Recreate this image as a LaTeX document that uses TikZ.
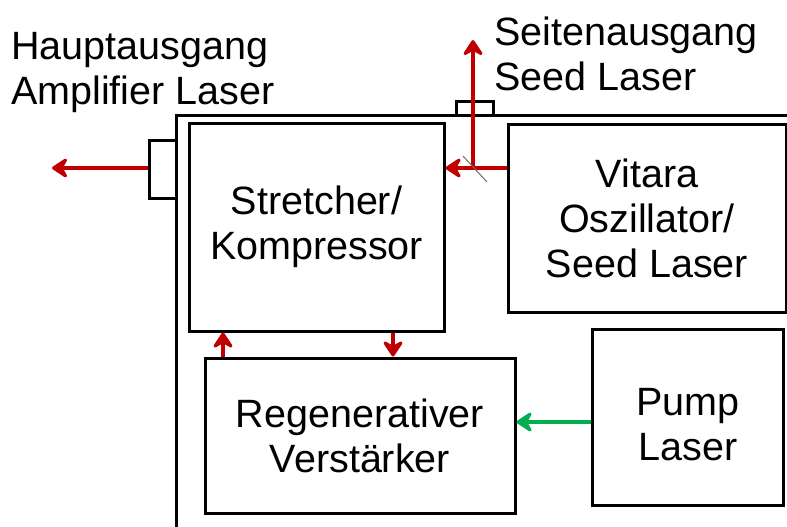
\documentclass[tikz,border=0pt]{standalone}
\usepackage{fontspec}
\setmainfont{Liberation Sans}
\usetikzlibrary{positioning, arrows.meta, calc}
\definecolor{beamred}{HTML}{C00000}
\definecolor{pumpgreen}{HTML}{00B050}
\definecolor{mirrorgray}{HTML}{707070}

\tikzset{
  blockbox/.style={draw=black, line width=3pt, align=center,
                   font=\fontsize{39.5}{45}\selectfont, inner sep=0pt},
  portbox/.style={draw=black, line width=3pt, inner sep=0pt},
  beam/.style={-{Stealth[length=19pt, width=25pt, inset=7pt, round]},
               draw=beamred, line width=3.5pt},
  pumpbeam/.style={-{Stealth[length=19pt, width=25pt, inset=7pt, round]},
               draw=pumpgreen, line width=3.5pt},
  lbl/.style={align=left, font=\fontsize{39.5}{45}\selectfont, inner sep=0pt}
}

\begin{document}
\begin{tikzpicture}[x=1pt, y=-1pt]
      \useasboundingbox (0,0) rectangle (787,527);
      \clip (0,0) rectangle (787,527);
      % housing
      \draw[line width=3pt] (176,540) -- (176,115) -- (800,115);
      \node[portbox, minimum width=27pt, minimum height=58pt] (mainport) at (162.5,169) {};
      \node[portbox, minimum width=37pt, minimum height=14pt] (sideport) at (474.5,108) {};
      % blocks
      \node[blockbox, minimum width=255pt, minimum height=208pt] (stretcher) at (316.5,227)
            {Stretcher/\\Kompressor};
      \node[blockbox, minimum width=278pt, minimum height=188pt] (vitara) at (647,218)
            {Vitara\\Oszillator/\\Seed Laser};
      \node[blockbox, minimum width=310pt, minimum height=155pt] (regen) at (360,435.5)
            {Regenerativer\\Verstärker};
      \node[blockbox, minimum width=191pt, minimum height=176pt] (pump) at (687.5,417) {};
      \node[blockbox, draw=none] (pumptext) at (688,425) {Pump\\Laser};
      % labels
      \node[lbl, anchor=west] (hauptlbl) at (11,73) {Hauptausgang\\Amplifier Laser};
      \node[lbl, anchor=west] (seitelbl) at (494,54) {Seitenausgang\\Seed Laser};
      % beams
      \coordinate (mirror) at (473,168);
      \coordinate (hauptend) at (52,168);
      \coordinate (seiteend) at (473,40);
      \coordinate (upx) at (223,0);
      \coordinate (downx) at (393,0);
      \coordinate (pumpy) at (0,422);
      \draw[beam] (mainport.west |- mirror) -- (hauptend);
      \draw[beamred, line width=3.5pt] (vitara.west |- mirror) -- (mirror);
      \draw[beam] (mirror) -- (stretcher.east |- mirror);
      \draw[beam] (mirror) -- (seiteend);
      \draw[mirrorgray, line width=1pt] ($(mirror)+(-10,-12)$) -- ($(mirror)+(14,14)$);
      \draw[beam] (upx |- regen.north) -- (upx |- stretcher.south);
      \draw[beam] (downx |- stretcher.south) -- (downx |- regen.north);
      \draw[pumpbeam] (pump.west |- pumpy) -- (regen.east |- pumpy);
\end{tikzpicture}
\end{document}
